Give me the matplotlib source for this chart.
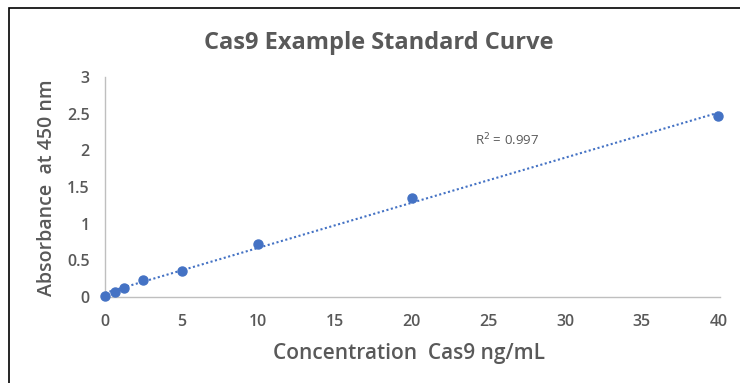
import numpy as np
import matplotlib
matplotlib.use("Agg")
import matplotlib.pyplot as plt
from matplotlib.patches import Rectangle

concentration = [0, 0.625, 1.25, 2.5, 5, 10, 20, 40]
absorbance = [0.01, 0.07, 0.12, 0.23, 0.355, 0.72, 1.35, 2.47]
x_ticks = [0, 5, 10, 15, 20, 25, 30, 35, 40]
y_ticks = [0, 0.5, 1, 1.5, 2, 2.5, 3]
y_tick_labels = ["0", "0.5", "1", "1.5", "2", "2.5", "3"]

plt.rcParams['font.family'] = ['Open Sans', 'DejaVu Sans']
gray = "#595959"
blue = "#4472C4"

fig = plt.figure(figsize=(7.4, 3.83), dpi=100)
ax = fig.add_axes([105/740, 1 - 297/383, 615/740, 220/383])

ax.plot(concentration, absorbance, 'o', color=blue, markersize=6.5, zorder=3, clip_on=False)
slope, intercept = np.polyfit(concentration, absorbance, 1)
xs = np.array([min(concentration), max(concentration)])
ax.plot(xs, slope * xs + intercept, linestyle=(0, (1, 1.2)), color=blue, linewidth=1.5,
        zorder=2, clip_on=False)

ax.set_xlim(0, 40.1)
ax.set_ylim(0, 3)
ax.set_xticks(x_ticks)
ax.set_yticks(y_ticks)
ax.set_yticklabels(y_tick_labels)
ax.tick_params(axis='y', length=0, labelsize=11.5, colors=gray, pad=11)
ax.tick_params(axis='x', length=0, labelsize=11.5, colors=gray, pad=12)
for lab in ax.get_xticklabels() + ax.get_yticklabels():
    lab.set_fontweight('semibold')
for s in ['top', 'right']:
    ax.spines[s].set_visible(False)
for s in ['left', 'bottom']:
    ax.spines[s].set_color('#BFBFBF')
    ax.spines[s].set_linewidth(1.0)

ax.text(24.1, 2.14, "R$^2$ = 0.997", fontsize=9.5, color=gray, va='center')

fig.text(0.512, 0.888, "Cas9 Example Standard Curve", ha='center', va='center',
         fontsize=17, fontweight='bold', color=gray)
fig.text(0.064, 0.51, "Absorbance  at 450 nm", ha='center', va='center', rotation=90,
         fontsize=14, fontweight='semibold', color=gray)
fig.text(0.553, 0.078, "Concentration  Cas9 ng/mL", ha='center', va='center',
         fontsize=15, fontweight='semibold', color=gray)

fig.patches.append(Rectangle((9/740, -0.01), 1.0, 1 - 8/383 + 0.01, transform=fig.transFigure,
                             fill=False, edgecolor='black', linewidth=1.2))

fig.savefig("out.png", dpi=100)
